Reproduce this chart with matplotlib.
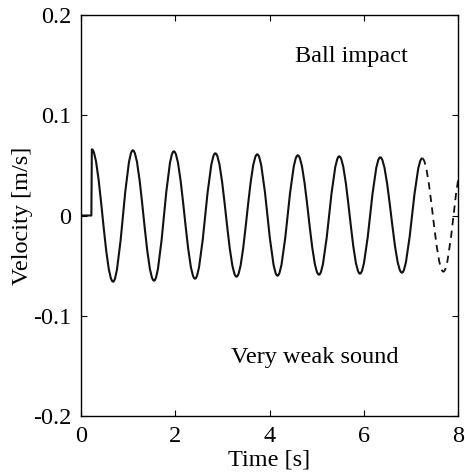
import numpy as np
import matplotlib.pyplot as plt
from matplotlib.path import Path
from matplotlib.patches import PathPatch

plt.rcParams['font.family'] = ['Liberation Serif', 'DejaVu Serif']
plt.rcParams['axes.unicode_minus'] = False

# measured signal: flat start, then jump at impact
t_start = [0.0, 0.22]
v_start = [0.0, 0.0]

# extrema (peaks / troughs) of the measured velocity, solid line
t_meas = [0.23, 0.68, 1.10, 1.55, 1.97, 2.42, 2.85, 3.30, 3.74, 4.17,
          4.60, 5.05, 5.48, 5.92, 6.35, 6.81, 7.24]
v_meas = [0.066, -0.066, 0.065, -0.065, 0.064, -0.063, 0.062, -0.061, 0.061,
          -0.060, 0.060, -0.059, 0.059, -0.058, 0.058, -0.057, 0.057]

# continuation (dashed), last peak lies beyond the axis
t_cont = [7.24, 7.69, 8.12]
v_cont = [0.057, -0.056, 0.056]

xticks = [0, 2, 4, 6, 8]
yticks = [-0.2, -0.1, 0, 0.1, 0.2]
yticklabels = ['-0.2', '-0.1', '0', '0.1', '0.2']


def extrema_path(ts, vs, lead_t=None, lead_v=None, a=0.363):
    """Smooth path through extrema, horizontal tangent at each one"""
    verts = []
    codes = []
    if lead_t is not None:
        for i, (t, v) in enumerate(zip(lead_t, lead_v)):
            verts.append((t, v))
            codes.append(Path.MOVETO if i == 0 else Path.LINETO)
        verts.append((ts[0], vs[0]))
        codes.append(Path.LINETO)
    else:
        verts.append((ts[0], vs[0]))
        codes.append(Path.MOVETO)
    for i in range(len(ts) - 1):
        dt = ts[i + 1] - ts[i]
        verts += [(ts[i] + a * dt, vs[i]), (ts[i + 1] - a * dt, vs[i + 1]),
                  (ts[i + 1], vs[i + 1])]
        codes += [Path.CURVE4] * 3
    return Path(verts, codes)


fig = plt.figure(figsize=(4.65, 4.76), dpi=100)
ax = fig.add_axes([81 / 465, 60 / 476, 377 / 465, 401 / 476])

ax.add_patch(PathPatch(extrema_path(t_meas, v_meas, t_start, v_start),
                       fill=False, edgecolor='#111111', linewidth=1.5,
                       joinstyle='round'))
ax.add_patch(PathPatch(extrema_path(t_cont, v_cont), fill=False,
                       edgecolor='#111111', linewidth=1.3, linestyle=(0, (4, 3))))

ax.set_xlim(0, 8)
ax.set_ylim(-0.2, 0.2)
ax.set_xticks(xticks)
ax.set_yticks(yticks)
ax.set_yticklabels(yticklabels)
ax.tick_params(direction='in', top=True, right=True, length=4, width=0.8,
               labelsize=17.5, pad=7)
for s in ax.spines.values():
    s.set_linewidth(1.0)

ax.set_xlabel('Time [s]', fontsize=17.5, labelpad=2)
ax.set_ylabel('Velocity [m/s]', fontsize=17.5, labelpad=0)

ax.text(5.74, 0.159, 'Ball impact', fontsize=17.5, ha='center', va='center')
ax.text(4.97, -0.142, 'Very weak sound', fontsize=17.5, ha='center', va='center')

plt.savefig('out.png', dpi=100)
